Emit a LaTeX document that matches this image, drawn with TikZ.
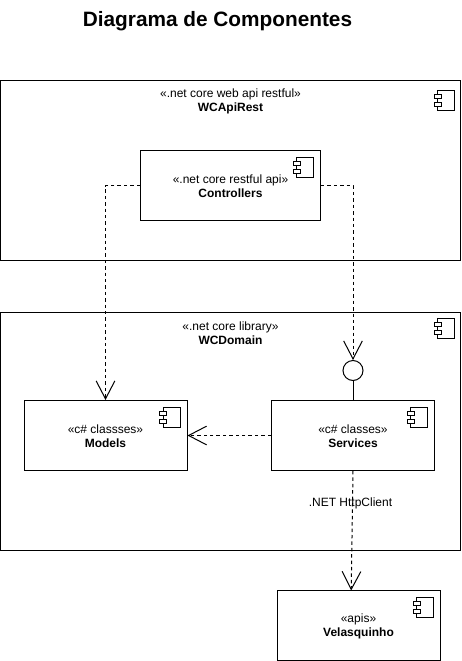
\documentclass[tikz,border=0pt]{standalone}
\usepackage{fontspec}
\setmainfont{Liberation Sans}
\usetikzlibrary{arrows.meta}
\tikzset{
  comp/.style={draw=black, line width=0.75pt, inner sep=0pt},
  complabel/.style={align=center, inner sep=0pt, font=\fontsize{9}{10.5}\selectfont},
  dep/.style={draw=black, line width=0.75pt, dash pattern=on 2.6pt off 2.2pt, -{Straight Barb[length=13.5pt,width=14pt,line width=0.75pt]}},
  compicon/.pic={
    \draw [line width=0.75pt] (-17,0) rectangle (0,20);
    \filldraw [fill=white, line width=0.75pt] (-20.5,4) rectangle (-13.5,8);
    \filldraw [fill=white, line width=0.75pt] (-20.5,12) rectangle (-13.5,16);
  }
}
\begin{document}
\begin{tikzpicture}[x=0.75pt,y=-0.75pt]
\useasboundingbox (0,0) rectangle (461,661);

\node [font=\fontsize{15.6}{18}\selectfont\bfseries, inner sep=0pt] (title) at (217.5,21) {Diagrama de Componentes};

%outer boxes
\node [comp, minimum width=345pt, minimum height=135pt] (wcapirest) at (230.5,170.5) {};
\node [complabel] (wcapirestlbl) at (230.5,101.5) {«.net core web api restful»\\\textbf{WCApiRest}};
\pic at (454.7,90) {compicon};
\node [comp, minimum width=345pt, minimum height=178.5pt] (wcdomain) at (230.5,431.5) {};
\node [complabel] (wcdomainlbl) at (230.5,333.5) {«.net core library»\\\textbf{WCDomain}};
\pic at (454.7,318.5) {compicon};

%inner boxes
\node [comp, minimum width=135pt, minimum height=52.5pt] (controllers) at (230.5,185.5) {};
\node [complabel] (controllerslbl) at (230.5,186) {«.net core restful api»\\\textbf{Controllers}};
\pic at (313.7,157.5) {compicon};
\node [comp, minimum width=122.25pt, minimum height=52.5pt] (models) at (105.5,435.5) {};
\node [complabel] (modelslbl) at (105.5,436.3) {«c\# classses»\\\textbf{Models}};
\pic at (180.3,407.5) {compicon};
\node [comp, minimum width=122.25pt, minimum height=52.5pt] (services) at (353,435.5) {};
\node [complabel] (serviceslbl) at (353,436.3) {«c\# classes»\\\textbf{Services}};
\pic at (427.5,407.5) {compicon};
\node [comp, minimum width=122.25pt, minimum height=52.5pt] (velasquinho) at (358.5,625.5) {};
\node [complabel] (velasquinholbl) at (358.5,626.3) {«apis»\\\textbf{Velasquinho}};
\pic at (433.7,597.5) {compicon};

%interface circle
\node [draw=black, line width=0.75pt, circle, minimum size=15pt, inner sep=0pt] (iface) at (353,370.5) {};
\coordinate (velasin) at (351.2,590.5);

\draw [dep] (controllers.west) -| (models.north);
\draw [dep] (controllers.east) -| (iface.north);
\draw [line width=0.75pt] (services.north) -- (iface.south);
\draw [dep] (services.west) -- (models.east);
\draw [dep] (services.south) -- (velasin);
\node [complabel] (httpclient) at (350.5,503) {.NET HttpClient};
\end{tikzpicture}
\end{document}
